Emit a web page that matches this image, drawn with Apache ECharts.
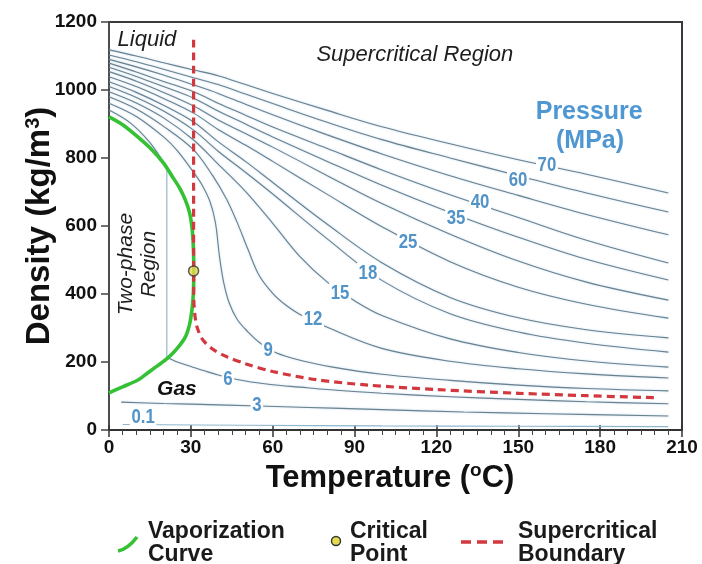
<!DOCTYPE html>
<html><head><meta charset="utf-8">
<script src="https://cdn.jsdelivr.net/npm/echarts@6/dist/echarts.min.js"></script>
<style>html,body{margin:0;padding:0;background:#fff}#c{width:702px;height:564px}</style>
</head><body><div id="c"></div>
<script>
// ---- axis ticks ----
const xTicks = [0, 30, 60, 90, 120, 150, 180, 210];
const yTicks = [0, 200, 400, 600, 800, 1000, 1200];

// ---- isobars: [temperature (°C), density (kg/m3)] ----
const p70 = [[0,1118],[10,1100],[20,1080],[31,1059],[40,1042],[50,1016],[60,990],[80,940],[100,892],[125,842],[150,795],[175,752],[205,697]];
const p60 = [[0,1103],[10,1083],[20,1061],[31,1036],[40,1016],[50,988],[60,960],[80,905],[100,854],[125,800],[150,748],[175,697],[205,641]];
const p50 = [[0,1090],[10,1068],[20,1044],[31,1015],[40,990],[50,958],[60,927],[80,868],[100,812],[125,748],[150,690],[175,634],[205,574]];
const p40 = [[0,1079],[10,1053],[20,1025],[31,995],[40,961],[50,926],[60,891],[80,828],[100,765],[125,692],[150,625],[175,558],[205,491]];
const p35 = [[0,1067],[10,1040],[20,1010],[31,976],[40,938],[50,900],[60,862],[80,790],[100,720],[125,640],[150,567],[175,502],[205,441]];
const p30 = [[0,1054],[10,1026],[20,993],[31,953],[40,912],[50,872],[60,832],[80,748],[100,666],[125,576],[150,497],[175,435],[205,382]];
const p25 = [[0,1039],[10,1010],[20,975],[31,932],[40,884],[50,838],[60,790],[80,693],[100,598],[125,495],[150,420],[175,370],[205,329]];
const p20 = [[0,1024],[10,993],[20,955],[31,906],[40,848],[50,790],[60,728],[80,605],[100,492],[125,390],[150,330],[175,295],[205,271]];
const p18 = [[0,1010],[10,978],[20,938],[31,882],[40,820],[50,758],[60,694],[80,562],[100,440],[125,342],[150,288],[175,255],[205,229]];
const p15 = [[0,995],[10,962],[20,918],[31,853],[40,782],[50,702],[60,608],[70,510],[80,435],[90,380],[100,337],[125,268],[150,228],[175,203],[205,185]];
const p12 = [[0,980],[10,944],[20,893],[31,824],[38,748],[43,680],[47,610],[51,530],[55,455],[60,402],[65,366],[70,340],[80,302],[100,240],[125,202],[150,180],[175,165],[205,153]];
const p9  = [[0,961],[10,922],[20,862],[25,822],[31,758],[34,722],[37,672],[39,610],[40.5,510],[42,435],[44,375],[47,325],[51,288],[55,258],[61,228],[70,205],[82,185],[100,164],[125,146],[150,132],[175,122],[205,115]];
const p6Liquid = [[0,941],[8,902],[15,845],[21.2,772]];
const p6TwoPhase = [[21.2,772],[21.2,215]];
const p6Gas = [[21.2,215],[25,200],[30,187],[35,174],[40,162],[50,144],[60,133],[70,126],[80,119],[100,108],[125,98],[150,90],[175,83],[205,77]];
const p3 = [[4.5,82],[20,78],[40,74],[70,67],[100,60],[130,53],[160,48],[205,41]];
const p01 = [[5,16],[50,14],[100,12],[150,11],[205,10]];

// ---- phase boundaries ----
const vapLiquid = [[0,921],[5,898],[10,866],[15,830],[20,785],[23,748],[26,710],[28,676],[29.5,640],[30.4,597],[30.9,540],[31.1,468]];
const vapGas = [[31.1,468],[30.9,400],[30.4,353],[29.5,310],[28,274],[25,240],[21.6,212],[18,190],[14,167],[10.6,147],[5,127],[0,109]];
const superBoundary = [[31,1148],[31,470],[31.1,380],[31.6,330],[32.5,297],[34.5,264],[38,238],[43,216],[50,195],[60,172],[76,148],[95,132],[120,119],[150,108],[175,101],[200,95]];
const criticalPoint = [[31,468]];

// ---- annotations [text, T, density] ----
const pressureLabels = [['70',160.5,779],['60',149.9,735],['40',136,671],['35',127.2,624],['25',109.6,553],['18',94.9,462],['15',84.7,403],['12',74.8,326],['9',58.3,235],['6',43.6,150],['3',54.2,73],['0.1',12.5,38]];
const regionLabels = [['Liquid',13.9,1147],['Supercritical Region',112.1,1103]];
const twoPhaseLabel = ['Two-phase\nRegion',10.6,488];
const gasLabel = ['Gas',24.9,121];
const pressureTitle = [['Pressure',176,935],['(MPa)',176.3,850]];

const isobars = [p70,p60,p50,p40,p35,p30,p25,p20,p18,p15,p12,p9,p6Liquid,p6Gas,p3];

const FONT = 'Liberation Sans, Arial, sans-serif';
const chart = echarts.init(document.getElementById('c'), null, {renderer:'canvas'});

const isoStyle = {color:'#6a818e', width:1.1, shadowColor:'rgba(110,170,215,0.5)', shadowBlur:2};
const series = isobars.map(d => ({
  type:'line', data:d, symbol:'none', smooth:0.35,
  lineStyle:isoStyle, silent:true, z:2
}));
series.push({type:'line', data:p6TwoPhase, symbol:'none', lineStyle:{color:'#8db0c6', width:1.1}, silent:true, z:2});
series.push({type:'line', data:p01, symbol:'none', smooth:0.35, lineStyle:{color:'#8fb6cf', width:1.1}, silent:true, z:2});
series.push({type:'line', data:vapLiquid, symbol:'none', smooth:0.3, lineStyle:{color:'#34c234', width:3.6}, silent:true, z:3});
series.push({type:'line', data:vapGas, symbol:'none', smooth:0.3, lineStyle:{color:'#34c234', width:3.6}, silent:true, z:3});
series.push({type:'line', data:superBoundary, symbol:'none', smooth:0.3, lineStyle:{color:'#d2393f', width:3.2, type:[8,5]}, silent:true, z:4});
series.push({type:'scatter', data:criticalPoint, symbol:'circle', symbolSize:10, itemStyle:{color:'#e3dc52', borderColor:'#333', borderWidth:1.5}, silent:true, z:5});

const tickLabel = {fontFamily:FONT, fontWeight:'bold', fontSize:19, color:'#111', formatter:v => String(v)};
const option = {
  animation:false,
  backgroundColor:'#fff',
  grid:{left:109, right:20, top:22, bottom:134, show:true, borderColor:'#3a3a3a', borderWidth:2, backgroundColor:'transparent'},
  xAxis:[{
    type:'value', min:xTicks[0], max:xTicks[xTicks.length-1], interval:xTicks[1]-xTicks[0],
    axisLine:{show:true, onZero:false, lineStyle:{color:'#333', width:2}},
    axisTick:{show:true, length:7, lineStyle:{color:'#333', width:1.5}},
    minorTick:{show:true, splitNumber:6, length:5, lineStyle:{color:'#444', width:1}},
    axisLabel:Object.assign({margin:8}, tickLabel),
    splitLine:{show:false}
  },{
    type:'value', min:xTicks[0], max:xTicks[xTicks.length-1], interval:xTicks[1]-xTicks[0], position:'bottom',
    axisLine:{show:false}, axisLabel:{show:false}, splitLine:{show:false},
    axisTick:{show:true, inside:true, length:5, lineStyle:{color:'#333', width:1.5}}
  }],
  yAxis:{
    type:'value', min:yTicks[0], max:yTicks[yTicks.length-1], interval:yTicks[1]-yTicks[0],
    axisLine:{show:true, onZero:false, lineStyle:{color:'#555', width:1.5}},
    axisTick:{show:true, length:8, lineStyle:{color:'#444', width:1.5}},
    axisLabel:Object.assign({margin:12}, tickLabel),
    splitLine:{show:false}
  },
  series:series
};
chart.setOption(option);

function px(T,d){ return chart.convertToPixel({seriesIndex:0},[T,d]); }
const g = [];
pressureLabels.forEach(([t,T,d]) => {
  const p = px(T,d);
  g.push({type:'text', x:p[0], y:p[1], scaleX:0.8, z:10, style:{text:t, font:'bold 21px '+FONT, fill:'#5293c8', align:'center', verticalAlign:'middle', backgroundColor:'#fff', padding:[0,2]}});
});
regionLabels.forEach(([t,T,d]) => {
  const p = px(T,d);
  g.push({type:'text', x:p[0], y:p[1], z:10, style:{text:t, font:'italic 22px '+FONT, fill:'#1e1e1e', align:'center', verticalAlign:'middle'}});
});
{
  const p = px(twoPhaseLabel[1], twoPhaseLabel[2]);
  g.push({type:'text', x:p[0], y:p[1], rotation:Math.PI/2, z:10, style:{text:twoPhaseLabel[0], font:'italic 21px '+FONT, lineHeight:23, fill:'#1e1e1e', align:'center', verticalAlign:'middle'}});
  const q = px(gasLabel[1], gasLabel[2]);
  g.push({type:'text', x:q[0], y:q[1], z:10, style:{text:gasLabel[0], font:'italic bold 21px '+FONT, fill:'#111', align:'center', verticalAlign:'middle'}});
}
pressureTitle.forEach(([t,T,d]) => {
  const p = px(T,d);
  g.push({type:'text', x:p[0], y:p[1], z:10, style:{text:t, font:'bold 25px '+FONT, fill:'#4f97d2', align:'center', verticalAlign:'middle'}});
});
// axis titles
g.push({type:'text', x:390, y:478, z:10, style:{text:'{a|Temperature (}{s|o}{a|C)}', align:'center', verticalAlign:'middle',
  rich:{a:{fontFamily:FONT, fontWeight:'bold', fontSize:31, fill:'#111', lineHeight:33}, s:{fontFamily:FONT, fontWeight:'bold', fontSize:19, fill:'#111', verticalAlign:'top', lineHeight:33}}}});
g.push({type:'text', x:40, y:226, rotation:Math.PI/2, z:10, style:{text:'{a|Density (kg/m}{s|3}{a|)}', align:'center', verticalAlign:'middle',
  rich:{a:{fontFamily:FONT, fontWeight:'bold', fontSize:33, fill:'#111', lineHeight:34}, s:{fontFamily:FONT, fontWeight:'bold', fontSize:20, fill:'#111', verticalAlign:'top', lineHeight:34}}}});
// legend
const lf = 'bold 23px '+FONT;
g.push({type:'bezierCurve', z:10, shape:{x1:118, y1:551, x2:137, y2:537, cpx1:128, cpy1:549}, style:{stroke:'#34c234', lineWidth:3.6, fill:null}});
g.push({type:'text', x:148, y:532, z:10, style:{text:'Vaporization', font:lf, fill:'#1a1a1a', verticalAlign:'middle'}});
g.push({type:'text', x:148, y:555, z:10, style:{text:'Curve', font:lf, fill:'#1a1a1a', verticalAlign:'middle'}});
g.push({type:'circle', z:10, shape:{cx:336, cy:541, r:4.5}, style:{fill:'#e3dc52', stroke:'#333', lineWidth:1.4}});
g.push({type:'text', x:350, y:532, z:10, style:{text:'Critical', font:lf, fill:'#1a1a1a', verticalAlign:'middle'}});
g.push({type:'text', x:350, y:555, z:10, style:{text:'Point', font:lf, fill:'#1a1a1a', verticalAlign:'middle'}});
g.push({type:'line', z:10, shape:{x1:461, y1:542, x2:507, y2:542}, style:{stroke:'#d2393f', lineWidth:3.6, lineDash:[10,6]}});
g.push({type:'text', x:518, y:532, z:10, style:{text:'Supercritical', font:lf, fill:'#1a1a1a', verticalAlign:'middle'}});
g.push({type:'text', x:518, y:555, z:10, style:{text:'Boundary', font:lf, fill:'#1a1a1a', verticalAlign:'middle'}});
chart.setOption({graphic:g});
</script></body></html>
